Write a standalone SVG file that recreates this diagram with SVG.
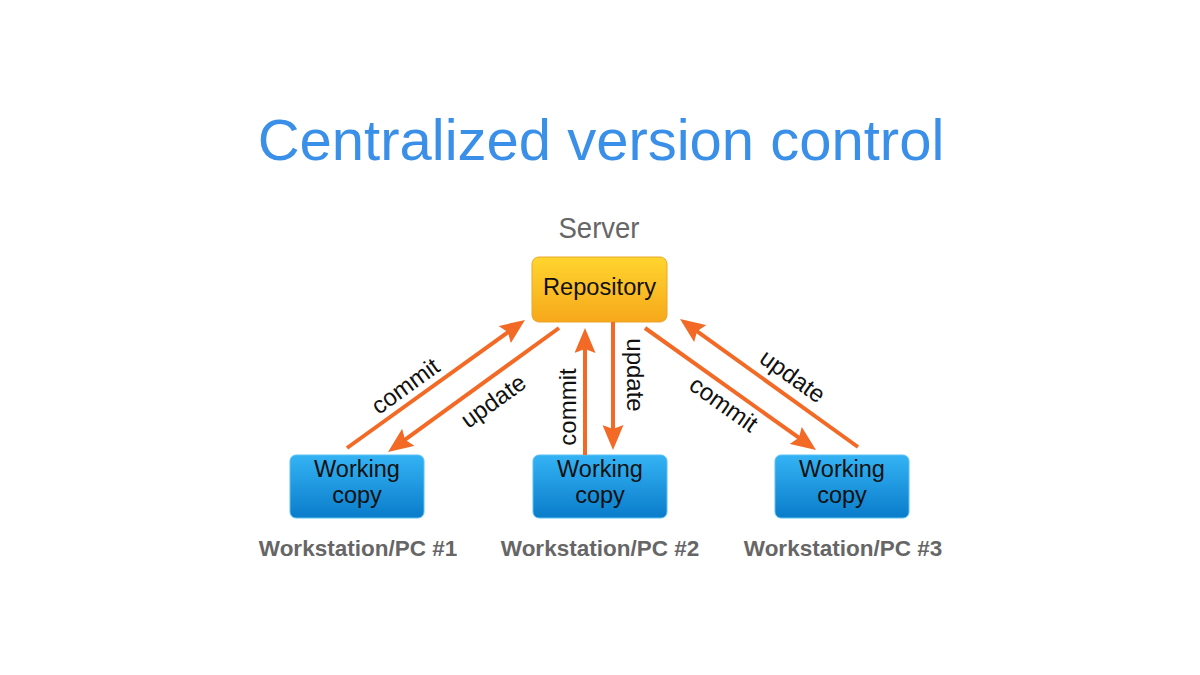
<svg xmlns="http://www.w3.org/2000/svg" width="1200" height="675" viewBox="0 0 1200 675">
<defs>
<linearGradient id="gRepo" x1="0" y1="0" x2="0" y2="1">
<stop offset="0" stop-color="#FFD52E"/>
<stop offset="1" stop-color="#F7A81B"/>
</linearGradient>
<linearGradient id="gWC" x1="0" y1="0" x2="0" y2="1">
<stop offset="0" stop-color="#34B3F4"/>
<stop offset="1" stop-color="#0A7CCA"/>
</linearGradient>
<marker id="ah" viewBox="0 0 25 21" refX="9" refY="10.5" markerWidth="25" markerHeight="21" markerUnits="userSpaceOnUse" orient="auto">
<path d="M0,0 L25,10.5 L0,21 L4,10.5 z" fill="#F26A25"/>
</marker>
</defs>
<style>
.title{font-family:"Liberation Sans",Arial,sans-serif;font-size:58px;fill:#3A8FE8;text-anchor:middle}
.server{font-family:"Liberation Sans",Arial,sans-serif;font-size:30px;fill:#666666;text-anchor:middle}
.node{font-family:"Liberation Sans",Arial,sans-serif;font-size:23.5px;fill:#111111;text-anchor:middle}
.ws{font-family:"Liberation Sans",Arial,sans-serif;font-size:22.5px;font-weight:bold;fill:#666666;text-anchor:middle}
.lbl{font-family:"Liberation Sans",Arial,sans-serif;font-size:24px;fill:#111111;text-anchor:middle}
.arr{stroke:#F26A25;stroke-width:4;fill:none;marker-end:url(#ah)}
.repo{fill:url(#gRepo);stroke:#EAA52A;stroke-width:1}
.wc{fill:url(#gWC);stroke:#5BC2F5;stroke-width:1}
</style>
<rect width="1200" height="675" fill="#FFFFFF"/>
<text class="title" x="601" y="160">Centralized version control</text>
<g id="repository">
<text class="server" x="599" y="238" textLength="81" lengthAdjust="spacingAndGlyphs">Server</text>
<rect class="repo" x="532" y="257" width="135" height="65" rx="7"/>
<text class="node" x="599.5" y="295" textLength="113" lengthAdjust="spacingAndGlyphs">Repository</text>
</g>
<g id="wc1">
<rect class="wc" x="290" y="455" width="134" height="63" rx="6"/>
<text class="node" x="357" y="477">Working</text>
<text class="node" x="357" y="503">copy</text>
<text class="ws" x="358" y="556">Workstation/PC #1</text>
</g>
<g id="wc2">
<rect class="wc" x="533" y="455" width="134" height="63" rx="6"/>
<text class="node" x="600" y="477">Working</text>
<text class="node" x="600" y="503">copy</text>
<text class="ws" x="600" y="556">Workstation/PC #2</text>
</g>
<g id="wc3">
<rect class="wc" x="775" y="455" width="134" height="63" rx="6"/>
<text class="node" x="842" y="477">Working</text>
<text class="node" x="842" y="503">copy</text>
<text class="ws" x="843" y="556">Workstation/PC #3</text>
</g>
<g id="connectors">
<line class="arr" x1="347" y1="448" x2="512" y2="329.3"/>
<line class="arr" x1="559" y1="328" x2="401" y2="442.6"/>
<line class="arr" x1="585" y1="455" x2="585" y2="344"/>
<line class="arr" x1="613" y1="322" x2="613" y2="434"/>
<line class="arr" x1="645" y1="328" x2="803" y2="440.7"/>
<line class="arr" x1="858" y1="447" x2="693" y2="328.3"/>
<text class="lbl" transform="translate(406,387) rotate(-35.7)" y="7">commit</text>
<text class="lbl" transform="translate(494,402) rotate(-35.7)" y="7">update</text>
<text class="lbl" transform="translate(576,407) rotate(-90)">commit</text>
<text class="lbl" transform="translate(627,375) rotate(90)">update</text>
<text class="lbl" transform="translate(723,405) rotate(35.5)" y="7">commit</text>
<text class="lbl" transform="translate(792,377) rotate(35.5)" y="7">update</text>
</g>
</svg>
